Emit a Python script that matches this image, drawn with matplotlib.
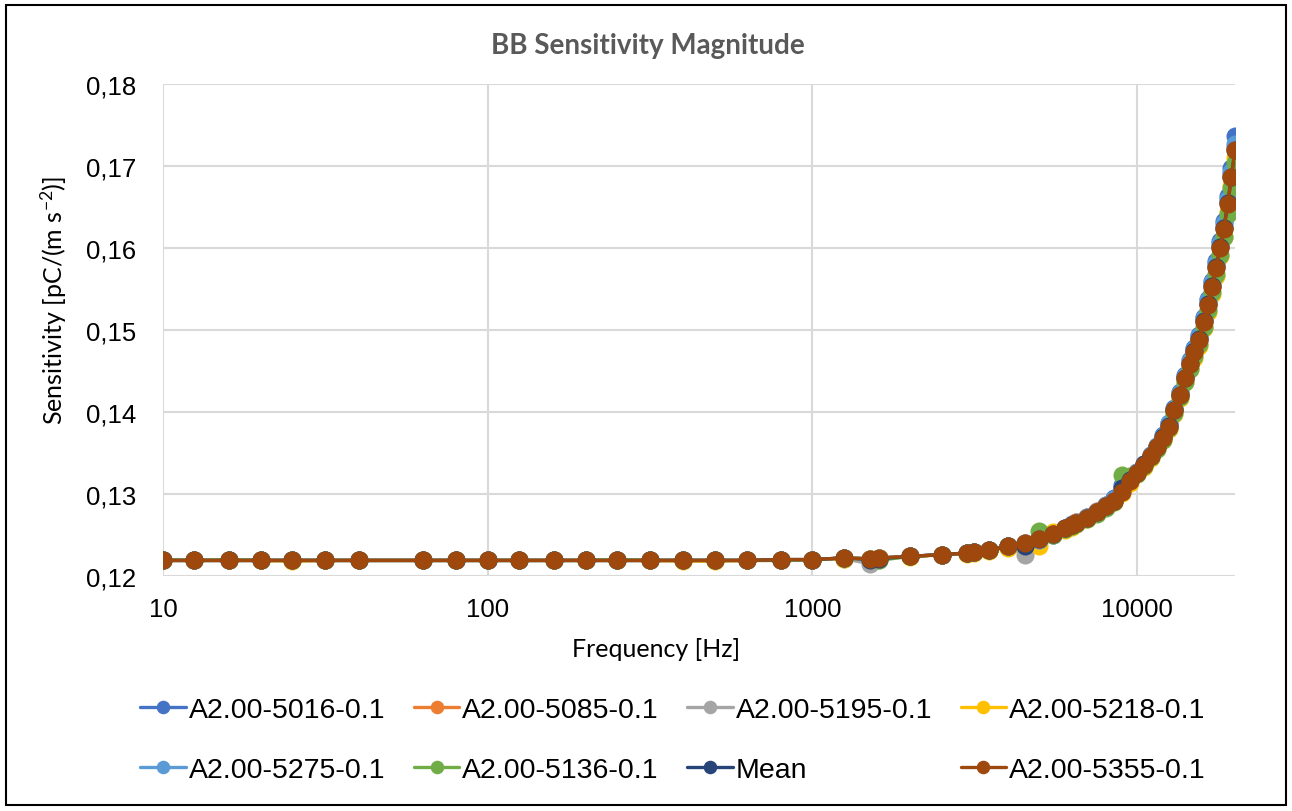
import matplotlib
matplotlib.use("Agg")
import matplotlib.pyplot as plt
from matplotlib.patches import Rectangle
from matplotlib.ticker import FuncFormatter, FixedLocator, NullLocator

# frequencies [Hz]
freq = [10, 12.5, 16, 20, 25, 31.5, 40, 63, 80, 100, 125, 160, 200, 250, 315, 400, 500, 630, 800, 1000,
        1250, 1500, 1600, 2000, 2500, 3000, 3150, 3500, 4000, 4500,
        5000, 5500, 6000, 6300, 6500, 7000, 7500, 8000, 8500, 9000, 9500, 10000, 10500, 11000, 11500,
        12000, 12500, 13000, 13500, 14000, 14500, 15000, 15500, 16000, 16500, 17000, 17500, 18000,
        18500, 19000, 19500, 20000]

# sensitivity [pC/(m s-2)]
s5016 = [0.1219, 0.1219, 0.1219, 0.1219, 0.1219, 0.1219, 0.1219, 0.1219, 0.1219, 0.1219,
         0.1219, 0.1219, 0.1219, 0.1219, 0.1219, 0.1219, 0.1219, 0.1219, 0.1220, 0.1220,
         0.1222, 0.1221, 0.1222, 0.1224, 0.1226, 0.1228, 0.1229, 0.1232, 0.1236, 0.1240,
         0.1245, 0.1251, 0.1259, 0.1263, 0.1266, 0.1272, 0.1279, 0.1286, 0.1295, 0.1311, 0.1318,
         0.1327, 0.1337, 0.1348, 0.1359, 0.1372, 0.1387, 0.1405, 0.1424, 0.1445, 0.1463, 0.1478,
         0.1494, 0.1516, 0.1538, 0.1560, 0.1584, 0.1608, 0.1633, 0.1664, 0.1697, 0.1737]
s5085 = [0.1219, 0.1219, 0.1219, 0.1219, 0.1219, 0.1219, 0.1219, 0.1219, 0.1219, 0.1219,
         0.1219, 0.1219, 0.1219, 0.1219, 0.1219, 0.1219, 0.1219, 0.1219, 0.1220, 0.1220,
         0.1222, 0.1221, 0.1222, 0.1224, 0.1226, 0.1228, 0.1229, 0.1232, 0.1236, 0.1240,
         0.1246, 0.1252, 0.1259, 0.1262, 0.1266, 0.1272, 0.1279, 0.1286, 0.1293, 0.1305, 0.1317,
         0.1327, 0.1336, 0.1347, 0.1358, 0.1369, 0.1384, 0.1403, 0.1422, 0.1442, 0.1459, 0.1474,
         0.1489, 0.1511, 0.1532, 0.1554, 0.1578, 0.1602, 0.1625, 0.1656, 0.1688, 0.1722]
s5195 = [0.1219, 0.1219, 0.1219, 0.1219, 0.1219, 0.1219, 0.1219, 0.1219, 0.1219, 0.1219,
         0.1219, 0.1219, 0.1219, 0.1219, 0.1219, 0.1219, 0.1219, 0.1219, 0.1219, 0.1220,
         0.1221, 0.1215, 0.1220, 0.1224, 0.1226, 0.1228, 0.1229, 0.1232, 0.1235, 0.1226,
         0.1243, 0.1250, 0.1257, 0.1261, 0.1264, 0.1271, 0.1278, 0.1285, 0.1291, 0.1304, 0.1316,
         0.1326, 0.1335, 0.1346, 0.1357, 0.1369, 0.1383, 0.1403, 0.1422, 0.1442, 0.1460, 0.1475,
         0.1490, 0.1512, 0.1533, 0.1556, 0.1579, 0.1603, 0.1627, 0.1658, 0.1691, 0.1723]
s5218 = [0.1219, 0.1219, 0.1219, 0.1219, 0.1218, 0.1219, 0.1219, 0.1219, 0.1219, 0.1219,
         0.1219, 0.1219, 0.1219, 0.1219, 0.1219, 0.1218, 0.1218, 0.1219, 0.1219, 0.1220,
         0.1221, 0.1221, 0.1222, 0.1223, 0.1226, 0.1227, 0.1228, 0.1231, 0.1234, 0.1239,
         0.1237, 0.1254, 0.1256, 0.1260, 0.1263, 0.1270, 0.1277, 0.1284, 0.1290, 0.1301, 0.1314,
         0.1324, 0.1333, 0.1344, 0.1355, 0.1366, 0.1379, 0.1398, 0.1417, 0.1436, 0.1452, 0.1466,
         0.1481, 0.1502, 0.1522, 0.1544, 0.1566, 0.1590, 0.1614, 0.1644, 0.1676, 0.1710]
s5275 = [0.1219, 0.1219, 0.1219, 0.1219, 0.1219, 0.1219, 0.1219, 0.1219, 0.1219, 0.1219,
         0.1219, 0.1219, 0.1219, 0.1219, 0.1219, 0.1219, 0.1219, 0.1219, 0.1220, 0.1220,
         0.1222, 0.1221, 0.1222, 0.1224, 0.1226, 0.1228, 0.1229, 0.1232, 0.1236, 0.1240,
         0.1244, 0.1250, 0.1258, 0.1262, 0.1265, 0.1272, 0.1278, 0.1286, 0.1294, 0.1309, 0.1317,
         0.1327, 0.1336, 0.1347, 0.1358, 0.1371, 0.1386, 0.1404, 0.1423, 0.1444, 0.1462, 0.1477,
         0.1493, 0.1515, 0.1536, 0.1558, 0.1582, 0.1606, 0.1630, 0.1660, 0.1693, 0.1727]
s5136 = [0.1220, 0.1219, 0.1220, 0.1219, 0.1219, 0.1219, 0.1219, 0.1219, 0.1219, 0.1219,
         0.1219, 0.1219, 0.1219, 0.1220, 0.1219, 0.1219, 0.1219, 0.1219, 0.1219, 0.1220,
         0.1222, 0.1221, 0.1219, 0.1224, 0.1226, 0.1228, 0.1229, 0.1232, 0.1236, 0.1238,
         0.1255, 0.1250, 0.1257, 0.1261, 0.1264, 0.1270, 0.1276, 0.1283, 0.1290, 0.1323, 0.1322,
         0.1325, 0.1334, 0.1345, 0.1355, 0.1366, 0.1380, 0.1399, 0.1418, 0.1437, 0.1453, 0.1468,
         0.1483, 0.1504, 0.1524, 0.1546, 0.1568, 0.1591, 0.1613, 0.1642, 0.1673, 0.1704]
mean = [0.1219, 0.1219, 0.1219, 0.1219, 0.1219, 0.1219, 0.1219, 0.1219, 0.1219, 0.1219,
        0.1219, 0.1219, 0.1219, 0.1219, 0.1219, 0.1219, 0.1219, 0.1219, 0.1220, 0.1220,
        0.1222, 0.1220, 0.1221, 0.1224, 0.1226, 0.1228, 0.1229, 0.1232, 0.1236, 0.1237,
        0.1245, 0.1251, 0.1258, 0.1262, 0.1265, 0.1271, 0.1278, 0.1285, 0.1292, 0.1307, 0.1317,
        0.1326, 0.1336, 0.1346, 0.1357, 0.1369, 0.1383, 0.1402, 0.1421, 0.1441, 0.1459, 0.1474,
        0.1489, 0.1511, 0.1532, 0.1554, 0.1577, 0.1601, 0.1625, 0.1655, 0.1687, 0.1720]
s5355 = [0.1219, 0.1219, 0.1219, 0.1219, 0.1219, 0.1219, 0.1219, 0.1219, 0.1219, 0.1219,
         0.1219, 0.1219, 0.1219, 0.1219, 0.1219, 0.1219, 0.1219, 0.1219, 0.1220, 0.1220,
         0.1222, 0.1221, 0.1222, 0.1224, 0.1226, 0.1228, 0.1229, 0.1232, 0.1236, 0.1240,
         0.1245, 0.1251, 0.1258, 0.1262, 0.1265, 0.1271, 0.1278, 0.1285, 0.1292, 0.1303, 0.1316,
         0.1326, 0.1335, 0.1346, 0.1357, 0.1368, 0.1382, 0.1402, 0.1421, 0.1441, 0.1458, 0.1473,
         0.1488, 0.1510, 0.1531, 0.1553, 0.1576, 0.1600, 0.1623, 0.1654, 0.1686, 0.1720]

series = [
    ("A2.00-5016-0.1", s5016, "#4472C4"),
    ("A2.00-5085-0.1", s5085, "#ED7D31"),
    ("A2.00-5195-0.1", s5195, "#A5A5A5"),
    ("A2.00-5218-0.1", s5218, "#FFC000"),
    ("A2.00-5275-0.1", s5275, "#5B9BD5"),
    ("A2.00-5136-0.1", s5136, "#70AD47"),
    ("Mean", mean, "#264478"),
    ("A2.00-5355-0.1", s5355, "#9E480E"),
]

x_ticks = [10, 100, 1000, 10000]
y_ticks = [0.12, 0.13, 0.14, 0.15, 0.16, 0.17, 0.18]

plt.rcParams['font.family'] = ['Liberation Sans', 'DejaVu Sans']
plt.rcParams['mathtext.fontset'] = 'custom'
plt.rcParams['mathtext.rm'] = 'Lato'
plt.rcParams['mathtext.it'] = 'Lato'

fig = plt.figure(figsize=(12.92, 8.12), dpi=100)
ax = fig.add_axes([163 / 1292, 1 - 577 / 812, (1235 - 163) / 1292, (577 - 85) / 812])

handles = []
for name, vals, col in series:
    h, = ax.plot(freq, vals, color=col, lw=2.4, marker='o', markersize=13,
                 markeredgewidth=0, label=name, solid_capstyle='round')
    handles.append(h)

ax.set_xscale('log')
ax.set_xlim(10, 20000)
ax.set_ylim(0.12, 0.18)
ax.xaxis.set_major_locator(FixedLocator(x_ticks))
ax.xaxis.set_minor_locator(NullLocator())
ax.xaxis.set_major_formatter(FuncFormatter(lambda v, p: f"{v:.0f}"))
ax.set_yticks(y_ticks)
ax.yaxis.set_major_formatter(FuncFormatter(lambda v, p: f"{v:.2f}".replace('.', ',')))
ax.tick_params(axis='both', length=0, labelsize=18.5)
ax.tick_params(axis='y', pad=19)
ax.tick_params(axis='x', pad=15)
ax.grid(True, color='#D9D9D9', lw=1.5)
ax.set_axisbelow(True)
for s in ax.spines.values():
    s.set_visible(False)

fig.text(648 / 1292, 1 - 46 / 812, "BB Sensitivity Magnitude", ha='center', va='center',
         fontsize=20, fontweight='bold', color='#595959', family='Lato')
fig.text(656 / 1292, 1 - 650 / 812, "Frequency [Hz]", ha='center', va='center',
         fontsize=18, family='Lato')
fig.text(54 / 1292, 1 - 300 / 812, r"Sensitivity [pC/(m s$^{\mathregular{-2}}$)]", ha='center', va='center',
         rotation=90, fontsize=18, family='Lato')

# legend, row-wise order in 4 columns
order = [0, 4, 1, 5, 2, 6, 3, 7]
fig.legend([handles[i] for i in order], [series[i][0] for i in order],
           ncol=4, loc='center', bbox_to_anchor=(673 / 1292, 1 - 741 / 812), frameon=False,
           fontsize=20.5, handlelength=1.6, handletextpad=0.1, columnspacing=1.0,
           markerscale=0.75, labelspacing=1.2)

fig.patches.append(Rectangle((6 / 1292, 6 / 812), 1280 / 1292, 800 / 812, transform=fig.transFigure,
                             fill=False, edgecolor='black', lw=1.5))

fig.savefig("out.png", dpi=100)
